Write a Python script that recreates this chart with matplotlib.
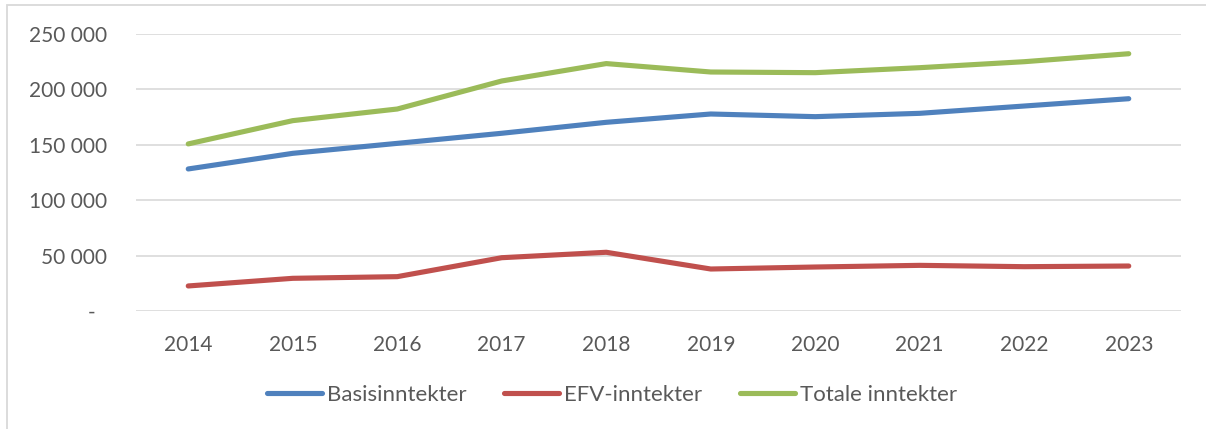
import matplotlib
matplotlib.use("Agg")
import matplotlib.pyplot as plt
from matplotlib.patches import Rectangle
from matplotlib.ticker import FuncFormatter

years = ["2014", "2015", "2016", "2017", "2018", "2019", "2020", "2021", "2022", "2023"]
basis = [128200, 142300, 151300, 160400, 170300, 177800, 175400, 178400, 185000, 191600]
efv = [22600, 29500, 31000, 48100, 53000, 37900, 39700, 41200, 40000, 40600]
totale = [150800, 171800, 182300, 207600, 223300, 215700, 215100, 219600, 225000, 232200]
series_names = ["Basisinntekter", "EFV-inntekter", "Totale inntekter"]
colors = ["#4F81BD", "#C0504D", "#9BBB59"]
yticks = [0, 50000, 100000, 150000, 200000, 250000]

plt.rcParams['font.family'] = ['Lato', 'DejaVu Sans']
W, H = 1206, 429
fig = plt.figure(figsize=(W / 100, H / 100), dpi=100)
fig.patch.set_facecolor("white")

# chart border
fig.add_artist(Rectangle((7 / W, -0.1), 1.2, (H - 5) / H + 0.1, transform=fig.transFigure,
                         fill=False, edgecolor="#D9D9D9", linewidth=1.3))

left, right, top, bottom = 136, 1181, 34, 311
ax = fig.add_axes([left / W, (H - bottom) / H, (right - left) / W, (bottom - top) / H])

x = list(range(len(years)))
for vals, name, c in zip([basis, efv, totale], series_names, colors):
    ax.plot(x, vals, color=c, linewidth=3.7, label=name, solid_capstyle="round",
            solid_joinstyle="round")

ax.set_xlim(-0.5, len(years) - 0.5)
ax.set_ylim(0, 250000)
ax.set_yticks(yticks)
ax.yaxis.set_major_formatter(FuncFormatter(
    lambda v, p: "-  " if v == 0 else f"{int(v):,}".replace(",", " ")))
ax.set_xticks(x)
ax.set_xticklabels(years)
ax.grid(axis="y", color="#D9D9D9", linewidth=1.2)
ax.set_axisbelow(True)
for s in ax.spines.values():
    s.set_visible(False)
ax.tick_params(axis="both", length=0, labelsize=15, labelcolor="#595959")
ax.tick_params(axis="y", pad=21)
ax.tick_params(axis="x", pad=17)

fig.legend(loc="center", bbox_to_anchor=(612 / W, (H - 395) / H), ncol=3, frameon=False,
           fontsize=16, labelcolor="#595959", handlelength=2.48, handletextpad=0.23,
           columnspacing=1.67)

fig.savefig("out.png", dpi=100)
